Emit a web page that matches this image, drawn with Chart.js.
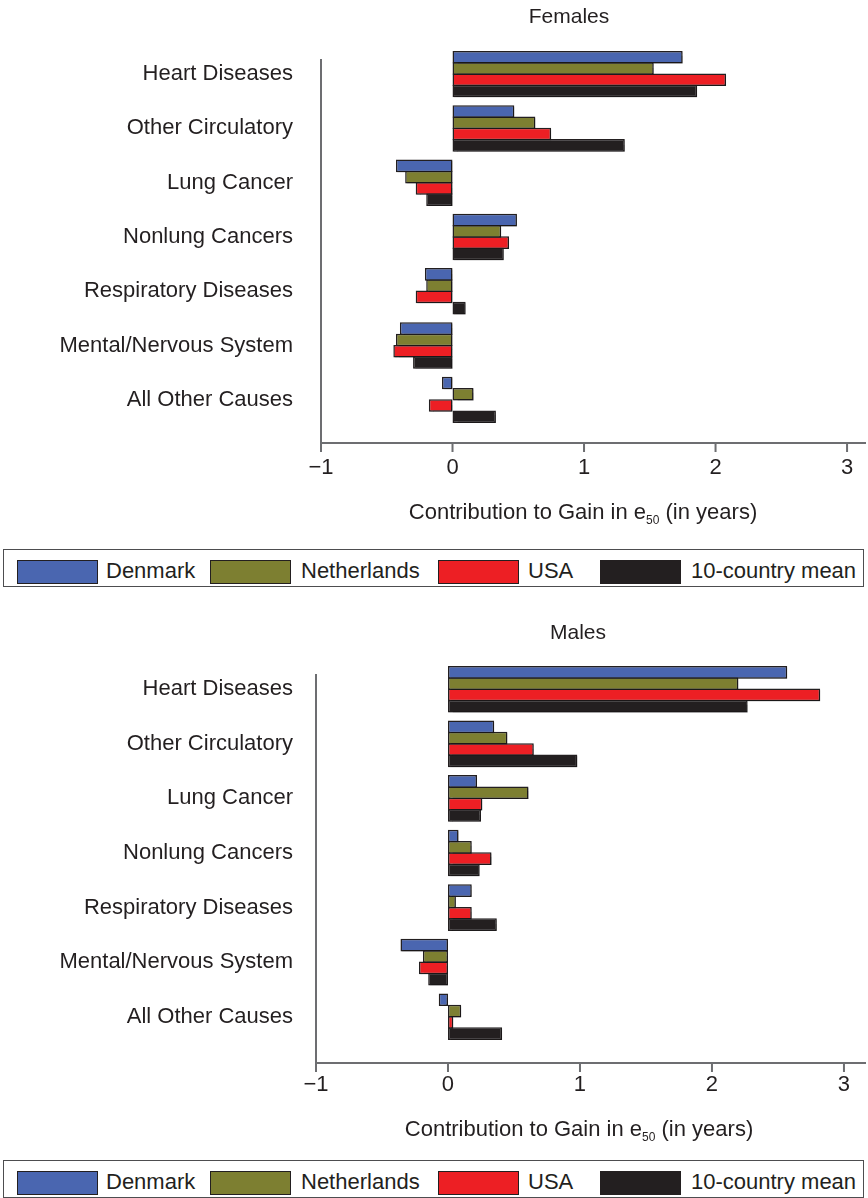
<!DOCTYPE html>
<html>
<head>
<meta charset="utf-8">
<script src="https://cdn.jsdelivr.net/npm/chart.js@4.4.1/dist/chart.umd.min.js"></script>
<style>
  body { margin: 0; background: #fff; }
  #page { position: relative; width: 868px; height: 1198px; overflow: hidden;
          font-family: "Liberation Sans", Arial, sans-serif; color: #231f20; }
  .panel { position: absolute; left: 0; width: 868px; height: 540px; }
  .title { position: absolute; width: 400px; text-align: center; font-size: 21px; line-height: 24px; }
  .xtitle { position: absolute; width: 400px; text-align: center; font-size: 22px; line-height: 24px; }
  .xtitle sub { font-size: 12px; vertical-align: -5px; line-height: 0; }
  .legend { position: absolute; left: 3px; width: 861px; height: 38px; border: 1.5px solid #4d4d4f; box-sizing: border-box; }
  .legend .sw { position: absolute; top: 10px; width: 81px; height: 24px; border: 1.5px solid #231f20; box-sizing: border-box; }
  .legend .lb { position: absolute; top: 9px; font-size: 22px; line-height: 24px; white-space: nowrap; }
</style>
</head>
<body>
<div id="page">
  <canvas id="chart-females" class="panel" width="868" height="540" style="top:0px"></canvas>
  <div class="title" style="left:369px; top:4px">Females</div>
  <div class="xtitle" style="left:383px; top:500px">Contribution to Gain in e<sub>50</sub> (in years)</div>
  <div class="legend" id="legend-females" style="top:549px"></div>

  <canvas id="chart-males" class="panel" width="868" height="540" style="top:615px"></canvas>
  <div class="title" style="left:378px; top:620px">Males</div>
  <div class="xtitle" style="left:379px; top:1117px">Contribution to Gain in e<sub>50</sub> (in years)</div>
  <div class="legend" id="legend-males" style="top:1160px"></div>
</div>
<script>
const causes = ['Heart Diseases', 'Other Circulatory', 'Lung Cancer', 'Nonlung Cancers',
                'Respiratory Diseases', 'Mental/Nervous System', 'All Other Causes'];
const countries = ['Denmark', 'Netherlands', 'USA', '10-country mean'];
const countryColors = ['#4a66b0', '#7d7f31', '#ed1f24', '#231f20'];
const xTicks = [-1, 0, 1, 2, 3];

// females, contribution in years
const femaleDenmark     = [1.75, 0.47, -0.43, 0.49, -0.21, -0.40, -0.08];
const femaleNetherlands = [1.53, 0.63, -0.36, 0.37, -0.20, -0.43, 0.16];
const femaleUSA         = [2.08, 0.75, -0.28, 0.43, -0.28, -0.45, -0.18];
const femaleMean        = [1.86, 1.31, -0.20, 0.39, 0.10, -0.30, 0.33];

// males
const maleDenmark     = [2.57, 0.35, 0.22, 0.08, 0.18, -0.36, -0.07];
const maleNetherlands = [2.20, 0.45, 0.61, 0.18, 0.06, -0.19, 0.10];
const maleUSA         = [2.82, 0.65, 0.26, 0.33, 0.18, -0.22, 0.04];
const maleMean        = [2.27, 0.98, 0.25, 0.24, 0.37, -0.15, 0.41];

const fontFamily = '"Liberation Sans", Arial, sans-serif';
const textColor = '#231f20';
const axisColor = '#6d6e71';

// axis frame: lines sit a bit below / inside the category area like the original
const makeAxisFrame = (gap) => ({
  id: 'axisFrame',
  beforeDatasetsDraw(chart) {
    const {ctx, chartArea, scales} = chart;
    const yLine = chartArea.bottom + gap;
    ctx.save();
    ctx.strokeStyle = axisColor;
    ctx.lineWidth = 2;
    ctx.beginPath();
    ctx.moveTo(chartArea.left, chartArea.top + 12);
    ctx.lineTo(chartArea.left, yLine);
    ctx.lineTo(chartArea.right, yLine);
    xTicks.forEach(v => {
      const px = scales.x.getPixelForValue(v);
      ctx.moveTo(px, yLine);
      ctx.lineTo(px, yLine + 9);
    });
    ctx.stroke();
    ctx.restore();
  }
});

const barShadow = {
  id: 'barShadow',
  beforeDatasetDraw(chart) {
    const ctx = chart.ctx;
    ctx.save();
    ctx.shadowColor = 'rgba(0,0,0,0.25)';
    ctx.shadowOffsetX = 1.5;
    ctx.shadowOffsetY = 1.5;
    ctx.shadowBlur = 1;
  },
  afterDatasetDraw(chart) {
    chart.ctx.restore();
  }
};

const makeConfig = (series, leftEdge, xMax, xHeight, axisGap) => ({
  type: 'bar',
  data: {
    labels: causes,
    datasets: series.map((values, i) => ({
      label: countries[i],
      data: values,
      backgroundColor: countryColors[i],
      borderColor: '#231f20',
      borderWidth: 1.5,
      borderSkipped: false,
      categoryPercentage: 0.83,
      barPercentage: 1.12
    }))
  },
  options: {
    indexAxis: 'y',
    responsive: false,
    animation: false,
    layout: { padding: { top: 47, right: 2, bottom: 0, left: 0 } },
    plugins: { legend: { display: false }, tooltip: { enabled: false }, title: { display: false } },
    scales: {
      x: {
        min: -1,
        max: xMax,
        afterFit: s => { s.height = xHeight; s.paddingLeft = 0; s.paddingRight = 0; },
        afterBuildTicks: s => { s.ticks = xTicks.map(v => ({ value: v })); },
        grid: { display: false, drawTicks: false },
        border: { display: false },
        ticks: {
          padding: 28,
          color: textColor,
          font: { family: fontFamily, size: 22 },
          callback: v => v < 0 ? '\u2212' + Math.abs(v) : String(v)
        }
      },
      y: {
        afterFit: s => { s.width = leftEdge; s.paddingTop = 0; s.paddingBottom = 0; },
        grid: { display: false, drawTicks: false },
        border: { display: false },
        ticks: {
          padding: leftEdge - 293,
          color: textColor,
          font: { family: fontFamily, size: 22 }
        }
      }
    }
  },
  plugins: [makeAxisFrame(axisGap), barShadow]
});

const buildLegend = (id) => {
  const box = document.getElementById(id);
  const swatchX = [13, 206, 434, 596];
  const labelX = [102, 297, 524, 687];
  countries.forEach((name, i) => {
    const sw = document.createElement('div');
    sw.className = 'sw';
    sw.style.left = swatchX[i] + 'px';
    sw.style.background = countryColors[i];
    box.appendChild(sw);
    const lb = document.createElement('div');
    lb.className = 'lb';
    lb.style.left = labelX[i] + 'px';
    lb.textContent = name;
    box.appendChild(lb);
  });
};

new Chart(document.getElementById('chart-females'),
  makeConfig([femaleDenmark, femaleNetherlands, femaleUSA, femaleMean], 321, 3.144, 113, 16));
new Chart(document.getElementById('chart-males'),
  makeConfig([maleDenmark, maleNetherlands, maleUSA, maleMean], 316, 3.167, 111, 19));

buildLegend('legend-females');
buildLegend('legend-males');
</script>
</body>
</html>
